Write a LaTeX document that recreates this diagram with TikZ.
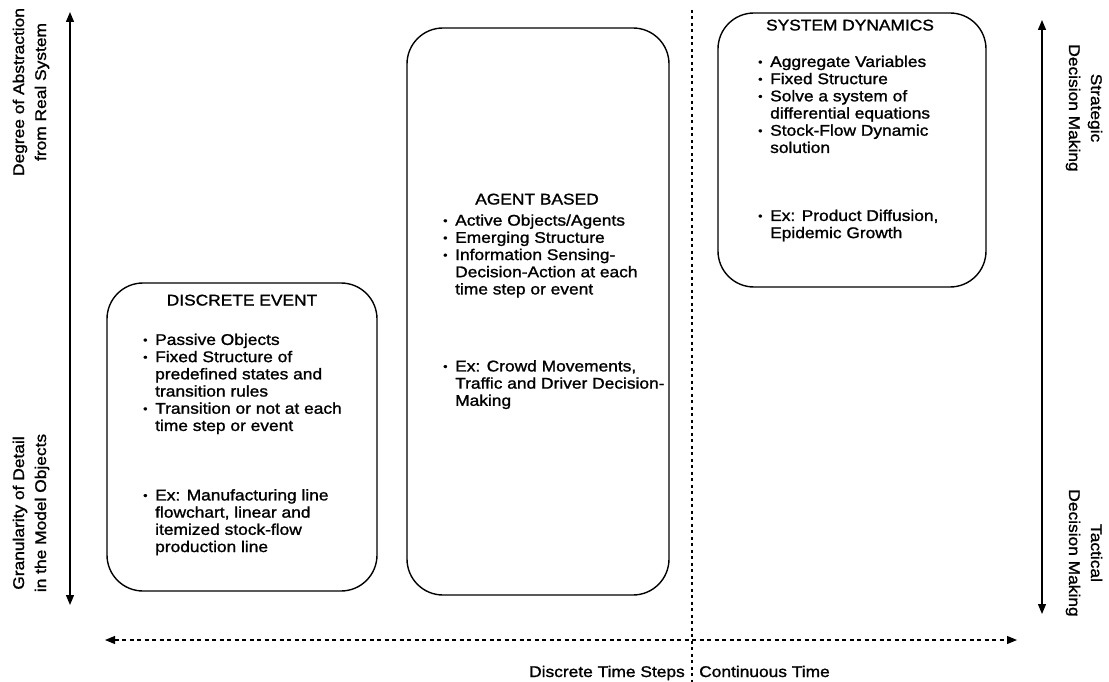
\documentclass[tikz,border=0pt]{standalone}
\usepackage{fontspec}
\setmainfont{Liberation Sans}[FakeStretch=1.12,FakeBold=1.3]
\usetikzlibrary{arrows.meta}

% bullet and continuation indent for the list lines
\newcommand\itm{\makebox[12pt][l]{\raisebox{1.2pt}{\fontsize{11}{11}\selectfont\textbullet}}}
\newcommand\cnt{\hspace*{12pt}}

\begin{document}
\begin{tikzpicture}[x=1pt,y=-1pt,
  modelbox/.style={draw, line width=1.4pt, rounded corners=36pt, inner sep=0pt},
  axis/.style={line width=1.3pt, {Triangle[length=10pt,width=8pt]}-{Triangle[length=10pt,width=8pt]}},
  timeaxis/.style={line width=1.1pt, dash pattern=on 4pt off 3.5pt,
    {Triangle[length=10pt,width=8pt]}-{Triangle[length=10pt,width=8pt]}},
  divider/.style={line width=1.5pt, dash pattern=on 3pt off 3.5pt},
  title/.style={font=\fontsize{15.5}{17.2}\selectfont, anchor=base, inner sep=0pt},
  body/.style={font=\fontsize{15.5}{17.2}\selectfont, align=left, anchor=north west, inner sep=0pt},
  sidelabel/.style={font=\fontsize{15.5}{22}\selectfont, align=center, inner sep=0pt}]
\useasboundingbox (0,0) rectangle (1109,682);

% model boxes
\node[modelbox, minimum width=270pt, minimum height=308pt] (de) at (242,437) {};
\node[modelbox, minimum width=262pt, minimum height=567pt] (ab) at (538,311.5) {};
\node[modelbox, minimum width=268pt, minimum height=274pt] (sd) at (852,150) {};

% discrete event
\node[title] (detitle) at (242,305.5) {DISCRETE EVENT};
\node[body] (delist) at (143,333.5) {\itm Passive Objects\\
  \itm Fixed Structure of\\ \cnt predefined states and\\ \cnt transition rules\\
  \itm Transition or not at each\\ \cnt time step or event};
\node[body] (deex) at (143,489) {\itm Ex: Manufacturing line\\
  \cnt flowchart, linear and\\ \cnt itemized stock-flow\\ \cnt production line};

% agent based
\node[title] (abtitle) at (537,204.5) {AGENT BASED};
\node[body] (ablist) at (443,214.2) {\itm Active Objects/Agents\\
  \itm Emerging Structure\\ \itm Information Sensing-\\
  \cnt Decision-Action at each\\ \cnt time step or event};
\node[body] (abex) at (443,360) {\itm Ex: Crowd Movements,\\
  \cnt Traffic and Driver Decision-\\ \cnt Making};

% system dynamics
\node[title] (sdtitle) at (850,30.5) {SYSTEM DYNAMICS};
\node[body] (sdlist) at (758,55.5) {\itm Aggregate Variables\\
  \itm Fixed Structure\\ \itm Solve a system of\\ \cnt differential equations\\
  \itm Stock-Flow Dynamic\\ \cnt solution};
\node[body] (sdex) at (758,209.5) {\itm Ex: Product Diffusion,\\ \cnt Epidemic Growth};

% left axis
\coordinate (lt) at (70,12);
\coordinate (lb) at (70,605);
\draw[axis] (lb) -- (lt);
\node[sidelabel, rotate=90] (abstr) at (31,92) {Degree of Abstraction\\from Real System};
\node[sidelabel, rotate=90] (gran) at (31,513) {Granularity of Detail\\in the Model Objects};

% right axis
\coordinate (rt) at (1042,20);
\coordinate (rb) at (1042,614);
\draw[axis] (rb) -- (rt);
\node[sidelabel, rotate=-90] (strat) at (1084,108) {Strategic\\Decision Making};
\node[sidelabel, rotate=-90] (tact) at (1084,553) {Tactical\\Decision Making};

% time axis and divider
\coordinate (tl) at (105,640);
\coordinate (tr) at (1017,640);
\draw[timeaxis] (tl) -- (tr);
\coordinate (dt) at (692,10);
\coordinate (db) at (692,682);
\draw[divider] (dt) -- (db);
\node[title, anchor=base east] (disc) at (685,677) {Discrete Time Steps};
\node[title, anchor=base west] (cont) at (699,677) {Continuous Time};
\end{tikzpicture}
\end{document}
